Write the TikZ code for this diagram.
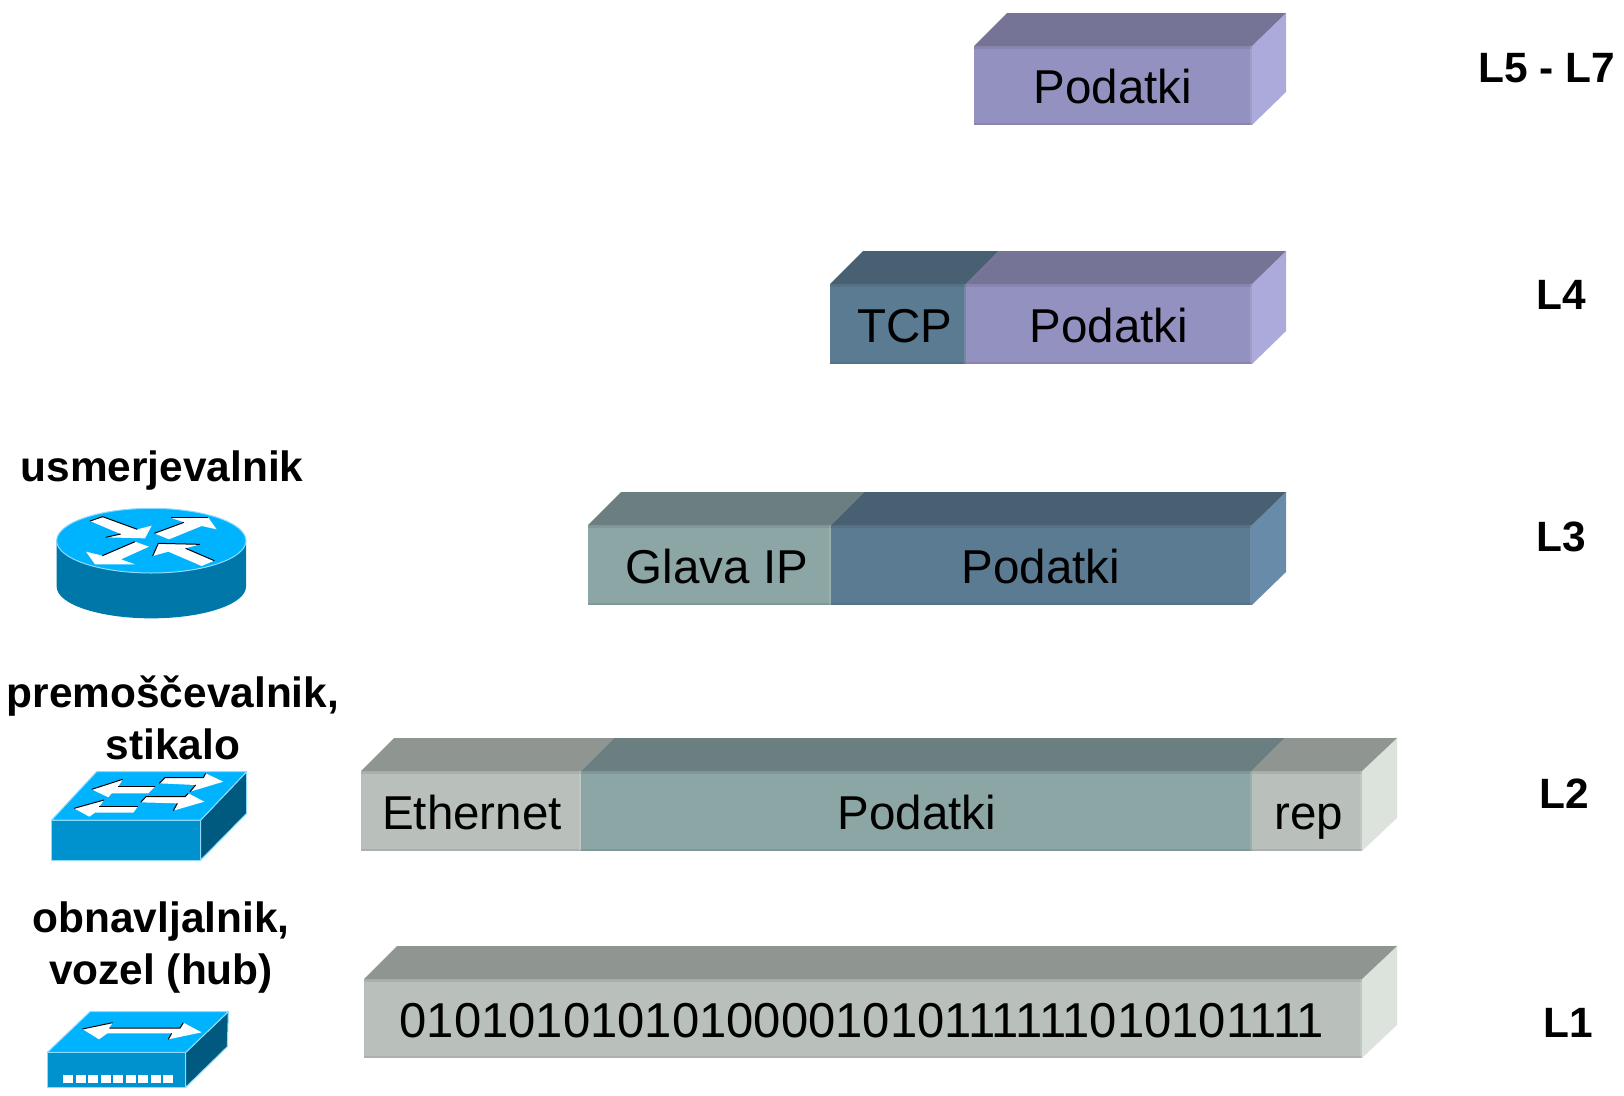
\documentclass[tikz,border=0pt]{standalone}
\usepackage{fontspec}
\setmainfont{Liberation Sans}

\definecolor{lila-front}{HTML}{9391BF}
\definecolor{lila-top}{HTML}{767496}
\definecolor{lila-side}{HTML}{ABAADA}
\definecolor{modra-front}{HTML}{5B7B92}
\definecolor{modra-top}{HTML}{486072}
\definecolor{modra-side}{HTML}{678BA9}
\definecolor{zelena-front}{HTML}{8BA6A4}
\definecolor{zelena-top}{HTML}{6C7F80}
\definecolor{siva-front}{HTML}{B9C0BB}
\definecolor{siva-top}{HTML}{8F9590}
\definecolor{siva-side}{HTML}{DCE3DD}
\definecolor{ikona-top}{HTML}{00B3FF}
\definecolor{ikona-front}{HTML}{0092CF}
\definecolor{ikona-side}{HTML}{005A80}
\definecolor{ikona-valj}{HTML}{0077A9}
\definecolor{ikona-rob}{HTML}{8FDBFF}

\tikzset{
    seglabel/.style={font=\fontsize{47.5}{57}\selectfont, anchor=base, inner sep=0pt},
    bitlabel/.style={font=\fontsize{49}{57}\selectfont, anchor=base, inner sep=0pt},
    laylabel/.style={font=\fontsize{42.4}{52}\selectfont\bfseries, anchor=base, inner sep=0pt},
    devlabel/.style={font=\fontsize{42.4}{52}\selectfont\bfseries, align=center, inner sep=0pt},
    iconedge/.style={draw=ikona-rob, line width=1pt, line join=round},
    iconarrow/.style={fill=white},
    arrowshade/.style={draw=black, line width=1pt}
}

\begin{document}
\begin{tikzpicture}[x=1pt, y=-1pt] % 1 unit = 1 pixel of the picture

    \useasboundingbox (0,0) rectangle (1624,1095);

    \def\depth{33} % rise of the slab tops

    % Slab sides
    \foreach \xb/\ytop/\ybot/\tone/\dx in {1252/46/125/lila/34,1252/284/364/lila/34,1252/525/605/modra/34,1362/771/851/siva/35,1362/979/1058/siva/35} {
        \fill[\tone-side] (\xb,\ytop) -- (\xb+\dx,\ytop-\depth) -- (\xb+\dx,\ybot-\depth) -- (\xb,\ybot) -- cycle;
    }

    % Slab segments: front face and top face
    \foreach \xa/\xb/\ytop/\ybot/\tone/\dx in {
        974/1252/46/125/lila/34,
        830/966/284/364/modra/33,
        966/1252/284/364/lila/34,
        588/831/525/605/zelena/33,
        831/1252/525/605/modra/34,
        361/581/771/851/siva/33,
        581/1252/771/851/zelena/33,
        1252/1362/771/851/siva/35,
        364/1362/979/1058/siva/35} {
        \fill[\tone-front] (\xa,\ytop) rectangle (\xb,\ybot);
        \fill[\tone-top] (\xa,\ytop) -- (\xa+33,\ytop-\depth) -- (\xb+\dx,\ytop-\depth) -- (\xb,\ytop) -- cycle;
        \fill[\tone-top, opacity=0.35] (\xa,\ytop) rectangle (\xb,\ytop+3);
        \fill[\tone-top, opacity=0.35] (\xa,\ybot-2) rectangle (\xb,\ybot);
        \fill[white, opacity=0.12] (\xb-2,\ytop) rectangle (\xb,\ybot);
    }

    % Segment texts
    \node[seglabel] (data5) at (1113,103) {Podatki};
    \node[seglabel] (tcp4) at (905,342) {TCP};
    \node[seglabel] (data4) at (1109,342) {Podatki};
    \node[seglabel] (ip3) at (717,583) {Glava IP};
    \node[seglabel] (data3) at (1041,583) {Podatki};
    \node[seglabel] (eth2) at (472,829) {Ethernet};
    \node[seglabel] (data2) at (917,829) {Podatki};
    \node[seglabel] (rep2) at (1309,829) {rep};
    \node[bitlabel] (bits1) at (862,1037) {01010101010100001010111111010101111};

    % Layer names
    \node[laylabel] (l57) at (1547,82) {L5 - L7};
    \node[laylabel] (l4) at (1561,309) {L4};
    \node[laylabel] (l3) at (1561,551) {L3};
    \node[laylabel] (l2) at (1564,808) {L2};
    \node[laylabel] (l1) at (1568,1037) {L1};

    % Device names
    \node[devlabel, anchor=base] (router) at (162,481) {usmerjevalnik};
    \node[devlabel] (bridge) at (173,718) {premoščevalnik,\\stikalo};
    \node[devlabel] (hub) at (161,948) {obnavljalnik,\\vozel (hub)};

    % Router icon
    \begin{scope}[shift={(20,490)}, scale=1/3]
        \fill[ikona-valj] (110,150) -- (110,290) arc[start angle=180, end angle=0, x radius=284, y radius=95] -- (678,150) -- cycle;
        \draw[iconedge, fill=ikona-top] (394,152) ellipse[x radius=284, y radius=97];
        \fill[iconarrow] (210,93) -- (248,80) -- (352,118) -- (395,107) -- (375,145) -- (257,142) -- (302,132) -- cycle;
        \fill[iconarrow] (403,130) -- (492,97) -- (452,83) -- (565,83) -- (590,118) -- (545,108) -- (447,148) -- cycle;
        \fill[iconarrow] (345,155) -- (387,170) -- (303,208) -- (345,223) -- (225,223) -- (198,185) -- (247,197) -- cycle;
        \fill[iconarrow] (398,198) -- (415,160) -- (540,163) -- (497,175) -- (583,212) -- (545,228) -- (445,185) -- cycle;
        \draw[arrowshade] (210,93) -- (248,80) -- (352,118);
        \draw[arrowshade] (257,142) -- (302,132);
        \draw[arrowshade] (403,130) -- (492,97);
        \draw[arrowshade] (452,83) -- (565,83);
        \draw[arrowshade] (247,197) -- (345,155);
        \draw[arrowshade] (398,198) -- (415,160) -- (540,163);
        \draw[arrowshade] (497,175) -- (583,212);
    \end{scope}

    % Switch icon
    \begin{scope}[shift={(30,760)}, scale=1/3]
        \draw[iconedge, fill=ikona-side] (512,180) -- (650,35) -- (650,160) -- (512,300) -- cycle;
        \draw[iconedge, fill=ikona-front] (65,180) rectangle (512,300);
        \draw[iconedge, fill=ikona-top] (65,180) -- (200,35) -- (650,35) -- (512,180) -- cycle;
        \fill[iconarrow] (185,88) -- (278,58) -- (265,80) -- (375,80) -- (355,100) -- (245,100) -- (235,112) -- cycle;
        \fill[iconarrow] (132,145) -- (222,120) -- (208,140) -- (323,140) -- (310,158) -- (195,158) -- (178,170) -- cycle;
        \fill[iconarrow] (388,70) -- (405,53) -- (520,53) -- (527,40) -- (580,65) -- (480,95) -- (497,75) -- cycle;
        \fill[iconarrow] (332,127) -- (348,110) -- (465,110) -- (475,100) -- (523,125) -- (430,152) -- (442,130) -- cycle;
        \draw[arrowshade] (185,88) -- (278,58);
        \draw[arrowshade] (265,80) -- (375,80);
        \draw[arrowshade] (132,145) -- (222,120);
        \draw[arrowshade] (208,140) -- (323,140);
        \draw[arrowshade] (388,70) -- (405,53) -- (520,53) -- (527,40);
        \draw[arrowshade] (480,95) -- (497,75);
        \draw[arrowshade] (332,127) -- (348,110) -- (465,110) -- (475,100);
        \draw[arrowshade] (430,152) -- (442,130);
    \end{scope}

    % Hub icon
    \begin{scope}[shift={(30,1000)}, scale=1/3]
        \draw[iconedge, fill=ikona-side] (467,157) -- (595,35) -- (592,140) -- (467,262) -- cycle;
        \draw[iconedge, fill=ikona-front] (52,157) rectangle (467,262);
        \draw[iconedge, fill=ikona-top] (52,157) -- (180,35) -- (595,35) -- (467,157) -- cycle;
        \fill[iconarrow] (157,87) -- (248,68) -- (238,84) -- (450,84) -- (460,68) -- (515,97) -- (415,118) -- (425,100) -- (232,100) -- (207,118) -- cycle;
        \draw[arrowshade] (157,87) -- (248,68);
        \draw[arrowshade] (238,84) -- (450,84) -- (460,68);
        \draw[arrowshade] (415,118) -- (425,100);
        \foreach \x in {0,...,8} {
            \fill[white] (100+37.5*\x,224) rectangle ++(29,26);
        }
    \end{scope}

\end{tikzpicture}
\end{document}
